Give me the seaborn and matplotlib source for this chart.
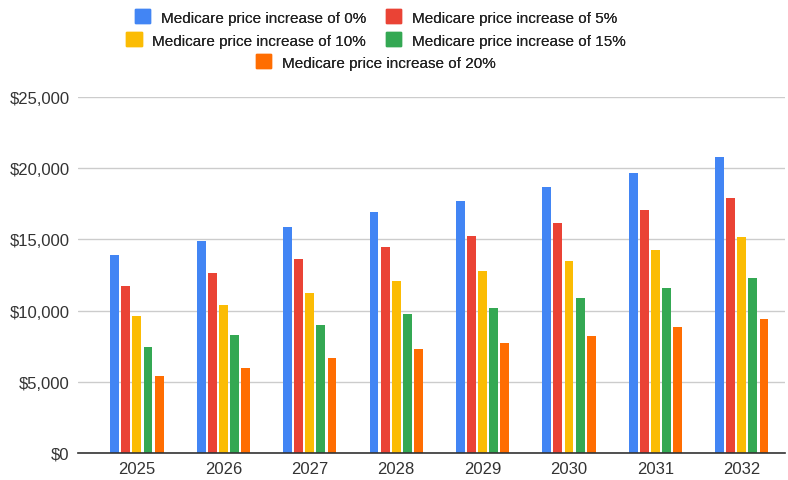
import matplotlib
matplotlib.use("Agg")
import matplotlib.pyplot as plt
from matplotlib.patches import Patch
from matplotlib.ticker import FuncFormatter
import seaborn as sns
import pandas as pd

years = ["2025", "2026", "2027", "2028", "2029", "2030", "2031", "2032"]
scenarios = [
    "Medicare price increase of 0%",
    "Medicare price increase of 5%",
    "Medicare price increase of 10%",
    "Medicare price increase of 15%",
    "Medicare price increase of 20%",
]
increase_0 = [13900, 14900, 15850, 16950, 17720, 18700, 19690, 20790]
increase_5 = [11700, 12620, 13600, 14490, 15260, 16150, 17040, 17930]
increase_10 = [9640, 10420, 11220, 12100, 12780, 13480, 14280, 15170]
increase_15 = [7470, 8260, 8970, 9740, 10210, 10910, 11610, 12310]
increase_20 = [5390, 6000, 6700, 7280, 7750, 8240, 8850, 9430]
colors = ["#4285F4", "#EA4335", "#FBBC04", "#34A853", "#FF6D01"]

series = [increase_0, increase_5, increase_10, increase_15, increase_20]
rows = []
for name, vals in zip(scenarios, series):
    for y, v in zip(years, vals):
        rows.append({"year": y, "cost": v, "scenario": name})
df = pd.DataFrame(rows)

sns.set_theme(style="white")
plt.rcParams["font.family"] = ["Liberation Sans", "DejaVu Sans"]

fig = plt.figure(figsize=(7.88, 4.81), dpi=100)
ax = fig.add_axes([78 / 788, 27 / 481, 707 / 788, 356 / 481])

sns.barplot(data=df, x="year", y="cost", hue="scenario", hue_order=scenarios,
            palette=colors, width=0.642, gap=0.2, legend=False, ax=ax,
            errorbar=None, saturation=1, linewidth=0)

ax.set_ylim(0, 25000)
ax.set_xlim(-0.682, 7.5)
ax.set_yticks([0, 5000, 10000, 15000, 20000, 25000])
ax.yaxis.set_major_formatter(FuncFormatter(lambda v, p: f"${int(v):,}"))
ax.grid(axis="y", color="#cccccc", linewidth=1)
ax.set_axisbelow(True)
for s in ["top", "right", "left"]:
    ax.spines[s].set_visible(False)
ax.spines["bottom"].set_color("#333333")
ax.spines["bottom"].set_linewidth(1.2)
ax.tick_params(axis="both", length=0, labelsize=12, colors="#333333")
ax.tick_params(axis="y", pad=6)
ax.tick_params(axis="x", pad=6)
ax.set_xlabel("")
ax.set_ylabel("")

handles = [Patch(facecolor=c, edgecolor=c) for c in colors]
legend_rows = [([0, 1], 0.9626), ([2, 3], 0.9148), ([4], 0.869)]
for idx, ypos in legend_rows:
    leg = fig.legend([handles[i] for i in idx], [scenarios[i] for i in idx],
                     loc="center", bbox_to_anchor=(0.477, ypos),
                     ncol=len(idx), frameon=False, fontsize=11,
                     handlelength=1.0, handleheight=1.0, handletextpad=0.7,
                     columnspacing=1.3, borderpad=0, borderaxespad=0)
    for t in leg.get_texts():
        t.set_color("#222222")
    fig.add_artist(leg)

fig.savefig("out.png", dpi=100)
